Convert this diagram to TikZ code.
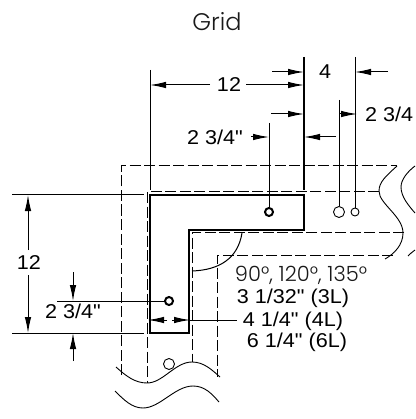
\documentclass[tikz,border=0pt]{standalone}
\usepackage{fontspec}
\newfontfamily\labfont{Liberation Sans}[FakeStretch=1.08]
\newfontfamily\titlefont{Poppins Light}
\usetikzlibrary{arrows.meta}
\tikzset{
 dim/.style={line width=1pt,black},
 ext/.style={line width=1pt,black},
 dimarrow/.style={dim,-{Latex[length=16pt,width=6.5pt]}},
 dashline/.style={line width=1pt,dash pattern=on 11pt off 3.5pt},
 thick outline/.style={line width=2.2pt,line join=miter},
 wave/.style={line width=0.9pt},
 lab/.style={font=\labfont\fontsize{20}{22}\selectfont,inner sep=0pt},
 lab2/.style={font=\titlefont\fontsize{21}{22}\selectfont,inner sep=0pt,text=black!90},
 titlelab/.style={font=\titlefont\fontsize{24}{26}\selectfont,inner sep=0pt,text=black!90}
}
\begin{document}
\begin{tikzpicture}[x=1pt,y=-1pt]
\useasboundingbox (0,0) rectangle (415,419);
\node[titlelab] (title) at (217,22) {Grid};
% dashed grid
\draw[dashline] (121,375) -- (121,166) -- (397,166);
\draw[dashline] (379,192) -- (147,192) -- (147,383);
\draw[dashline] (404,232) -- (192,232) -- (192,362);
\draw[dashline] (393,255) -- (217,255) -- (217,377);
% thick L
\draw[thick outline] (150,195) -- (304,195) -- (304,230) -- (189,230) -- (189,333) -- (150,333) -- cycle;
% waves
\draw[wave] (397,166) .. controls (386,176) and (379,182) .. (379,191) .. controls (379,204) and (403,216) .. (403,233) .. controls (403,245) and (394,254) .. (385,259);
\draw[wave] (415,166) .. controls (407,172) and (401,180) .. (401,187) .. controls (401,197) and (409,206) .. (415,213);
\draw[wave] (408,256) .. controls (410,254) and (412,252) .. (415,250);
\draw[wave] (116,367) .. controls (126,376) and (135,383) .. (147,383) .. controls (163,383) and (175,362) .. (192,362) .. controls (204,362) and (212,370) .. (220,377);
\draw[wave] (115,391) .. controls (124,400) and (132,408) .. (143,408) .. controls (160,408) and (175,386) .. (193,386) .. controls (205,386) and (212,394) .. (219,402);
% holes
\node[draw,circle,line width=2pt,minimum size=8pt,inner sep=0pt] (h1) at (269,212) {};
\node[draw,circle,line width=2pt,minimum size=8pt,inner sep=0pt] (h2) at (169,301) {};
\node[draw,circle,line width=0.9pt,minimum size=11pt,inner sep=0pt] (h3) at (339,212) {};
\node[draw,circle,line width=0.9pt,minimum size=8pt,inner sep=0pt] (h4) at (355,212) {};
\node[draw,circle,line width=0.9pt,minimum size=11pt,inner sep=0pt] (h5) at (169,364) {};
% extension lines
\draw[ext] (150,70) -- (150,190);
\draw[ext,line width=1.3pt] (304,57) -- (304,190);
\draw[ext] (355,57) -- (h4.north);
\draw[ext] (339,100) -- (h3.north);
\draw[ext] (269,123) -- (h1.north);
\draw[ext] (12,195) -- (144,195);
\draw[ext] (12,333) -- (144,333);
\draw[ext] (57,301) -- (h2.west);
% dims top
\coordinate (a12l) at (210,85); \coordinate (a12r) at (246,85);
\draw[dimarrow] (a12l) -- (150,85);
\draw[dimarrow] (a12r) -- (304,85);
\node[lab] (t12) at (229,85) {12};
\draw[dimarrow] (272,72) -- (304,72);
\draw[dimarrow] (388,72) -- (355,72);
\node[lab] (t4) at (325,72) {4};
\draw[dimarrow] (271,114) -- (304,114);
\draw[dimarrow] (339,114) -- (357,114);
\node[lab,anchor=west] (t234a) at (365,114) {2 3/4};
\node[lab] (t234b) at (215,137) {2 3/4"};
\draw[dimarrow] (251,137) -- (269,137);
\draw[dimarrow] (336,137) -- (304,137);
% dims left
\draw[dimarrow] (28,250) -- (28,195);
\draw[dimarrow] (28,275) -- (28,333);
\node[lab] (t12b) at (29,263) {12};
\draw[dimarrow] (73,272) -- (73,301);
\draw[dimarrow] (73,361) -- (73,333);
\node[lab] (t234c) at (73,311) {2 3/4"};
% 4 1/4
\draw[dimarrow] (167,320) -- (148,320);
\draw[dimarrow] (172,320) -- (190,320);
\draw[dim] (189,320) -- (237,320);
% arc
\draw[wave,line width=1pt] (192,271) .. controls (220,270) and (238,258) .. (242,233);
% labels
\node[lab2] (t90) at (301,275) {90°, 120°, 135°};
\node[lab] (t3) at (293,298) {3 1/32" (3L)};
\node[lab] (t4l) at (293,321) {4 1/4" (4L)};
\node[lab] (t6) at (297,342) {6 1/4" (6L)};
\end{tikzpicture}
\end{document}
